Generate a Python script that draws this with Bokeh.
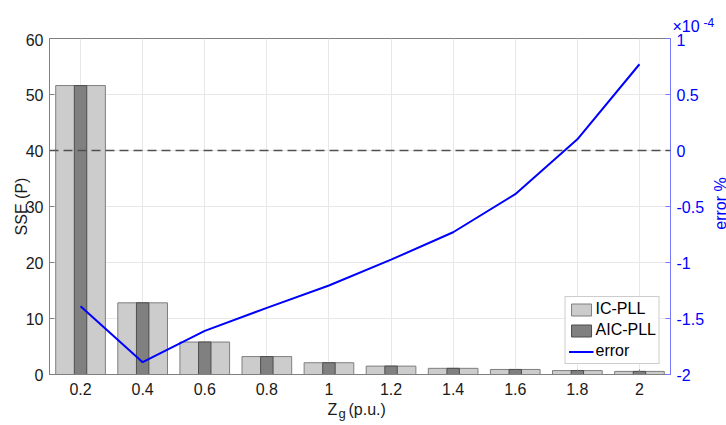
from bokeh.plotting import figure
from bokeh.layouts import column, row
from bokeh.models import (Range1d, LinearAxis, FixedTicker, Span,
                          Legend, LegendItem, ColumnDataSource)
from bokeh.core.properties import value
from bokeh.embed import file_html
from bokeh.resources import INLINE
import math

# Grid impedance values (p.u.) and results
zg_labels = ["0.2", "0.4", "0.6", "0.8", "1", "1.2", "1.4", "1.6", "1.8", "2"]
sse_ic_pll = [51.6, 12.8, 5.8, 3.2, 2.1, 1.5, 1.1, 0.9, 0.7, 0.55]
sse_aic_pll = [51.6, 12.8, 5.8, 3.2, 2.1, 1.5, 1.1, 0.9, 0.7, 0.55]
error_e4 = [-1.39, -1.89, -1.61, -1.405, -1.205, -0.975, -0.73, -0.39, 0.10, 0.77]  # x 1e-4 %

left_ticks = [0, 10, 20, 30, 40, 50, 60]
right_ticks = [-2, -1.5, -1, -0.5, 0, 0.5, 1]

pos = list(range(1, len(zg_labels) + 1))
src = ColumnDataSource(dict(x=pos, ic=sse_ic_pll, aic=sse_aic_pll, err=error_e4))

FONT = "Liberation Sans"
W = 726
TOP_H, MAIN_H, BOT_H = 33, 367, 25
SIDE_W = 18                # strip holding the right axis title
MAIN_W = W - SIDE_W
FL, FR = 49, 670           # frame left / right (px)
FT, FB = 5, 341            # frame top / bottom inside the main figure (px)

p = figure(width=MAIN_W, height=MAIN_H, x_range=Range1d(0.5, 10.5), y_range=Range1d(0, 60),
           output_backend="svg", toolbar_location=None,
           min_border_left=FL, min_border_right=MAIN_W - FR,
           min_border_top=FT, min_border_bottom=MAIN_H - FB)
p.outline_line_color = "#808080"
p.outline_line_width = 1
p.background_fill_color = "white"
p.border_fill_color = "white"

p.extra_y_ranges = {"err": Range1d(-2, 1)}


def style_axis(ax, color, line_color):
    ax.axis_line_color = line_color
    ax.major_tick_line_color = line_color
    ax.major_tick_in = 5
    ax.major_tick_out = 0
    ax.minor_tick_line_color = None
    ax.major_label_text_font = FONT
    ax.major_label_text_font_size = "16px"
    ax.major_label_text_color = color
    ax.major_label_standoff = 6
    ax.axis_label_text_font = FONT
    ax.axis_label_text_font_size = "16px"
    ax.axis_label_text_font_style = "normal"
    ax.axis_label_text_color = color


xa = p.xaxis[0]
xa.ticker = FixedTicker(ticks=pos)
xa.major_label_overrides = {i: s for i, s in zip(pos, zg_labels)}
style_axis(xa, "#1a1a1a", "#808080")
xa.major_label_standoff = 8

ya = p.yaxis[0]
ya.ticker = FixedTicker(ticks=left_ticks)
style_axis(ya, "#1a1a1a", "#808080")
ya.axis_label = "SSE (P)"
ya.axis_label_standoff = -7

ra = LinearAxis(y_range_name="err", ticker=FixedTicker(ticks=right_ticks))
ra.major_label_overrides = {t: ("%g" % t) for t in right_ticks}
style_axis(ra, "#0000ff", "#7878ff")
p.add_layout(ra, "right")

p.xgrid.grid_line_color = "#e8e8e8"
p.ygrid.grid_line_color = "#e8e8e8"
p.xgrid.ticker = FixedTicker(ticks=pos)
p.ygrid.ticker = FixedTicker(ticks=left_ticks)

r_ic = p.vbar(x="x", top="ic", width=0.8, source=src,
              fill_color="#cccccc", line_color="#7f7f7f", line_width=1)
r_aic = p.vbar(x="x", top="aic", width=0.2, source=src,
               fill_color="#808080", line_color="#4d4d4d", line_width=1)

p.add_layout(Span(location=0, dimension="width", y_range_name="err",
                  line_color="#505050", line_width=1.3, line_dash="9 5"))

r_err = p.line(x="x", y="err", source=src, y_range_name="err",
               line_color="#0000ff", line_width=2)

legend = Legend(items=[LegendItem(label="IC-PLL", renderers=[r_ic]),
                       LegendItem(label="AIC-PLL", renderers=[r_aic]),
                       LegendItem(label="error", renderers=[r_err])],
                location="bottom_right", margin=10, padding=3, spacing=3,
                glyph_width=25, glyph_height=15, label_height=16,
                label_standoff=2, label_text_font=FONT,
                label_text_font_size="16px", label_text_color="#000000",
                border_line_color="#9a9a9a", border_line_width=1,
                background_fill_color="white", background_fill_alpha=1)
p.add_layout(legend, "center")


def strip(width, height):
    """Blank figure whose data coordinates are its own pixels (y downwards)."""
    s = figure(width=width, height=height, x_range=Range1d(0, width),
               y_range=Range1d(height, 0), output_backend="svg",
               toolbar_location=None, min_border=0,
               x_axis_location=None, y_axis_location=None)
    s.grid.visible = False
    s.outline_line_color = None
    s.background_fill_color = "white"
    s.border_fill_color = "white"
    if "frame_align" in s.properties():
        s.frame_align = False
    return s


# Exponent of the right axis (texts placed by their vertical centre)
top = strip(W, TOP_H)
top.text(x=[672], y=[26], text=["\u00d710"], text_font=value(FONT), text_font_size="16px",
         text_color="#0000ff", text_baseline="middle", text_align="left")
top.text(x=[703], y=[22], text=["-4"], text_font=value(FONT), text_font_size="12px",
         text_color="#0000ff", text_baseline="middle", text_align="left")

# Right axis title, reading upwards
side = strip(SIDE_W, MAIN_H)
side.text(x=[12], y=[203 - TOP_H], text=["error %"], text_font=value(FONT),
          text_font_size="16px", text_color="#0000ff", angle=math.pi / 2,
          text_align="center", text_baseline="middle")

# x-axis title with subscript
bot = strip(W, BOT_H)
bot.text(x=[327, 348], y=[9, 9], text=["Z", "(p.u.)"], text_font=value(FONT),
         text_font_size="16px", text_color="#1a1a1a", text_baseline="middle",
         text_align="left")
bot.text(x=[338], y=[13], text=["g"], text_font=value(FONT), text_font_size="13px",
         text_color="#1a1a1a", text_baseline="middle", text_align="left")

layout = column(top, row(p, side, spacing=0), bot, spacing=0)
open("out.html", "w").write(file_html(layout, INLINE))
